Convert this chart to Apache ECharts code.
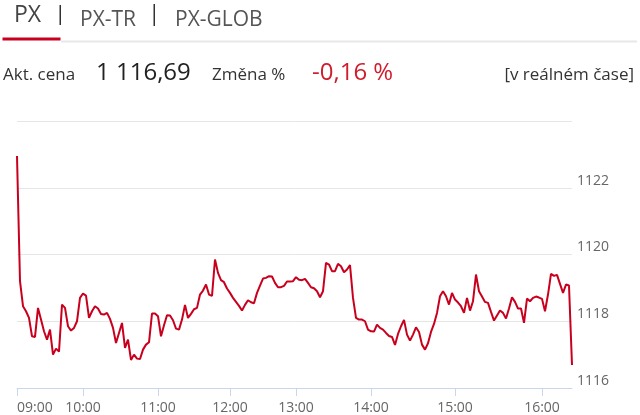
<!DOCTYPE html>
<html>
<head>
<meta charset="utf-8">
<script src="https://cdn.jsdelivr.net/npm/echarts@6/dist/echarts.min.js"></script>
<style>
  html, body { margin: 0; padding: 0; background: #fff; }
  #chart { width: 640px; height: 415px; }
</style>
</head>
<body>
<div id="chart"></div>
<script>
// PX index, intraday values (evenly spaced points, as on the original ordinal axis)
const pxValues = [
  1122.95, 1119.2, 1118.45, 1118.3, 1118.1, 1117.55, 1117.53, 1118.4, 1118.05, 1117.7,
  1117.45, 1117.75, 1117.0, 1117.18, 1117.09, 1118.5, 1118.4, 1117.85, 1117.72, 1117.8,
  1118.0, 1118.7, 1118.83, 1118.77, 1118.1, 1118.3, 1118.45, 1118.38, 1118.22, 1118.2,
  1118.25, 1118.07, 1117.8, 1117.35, 1117.65, 1117.95, 1117.2, 1117.45, 1116.84, 1117.0,
  1116.88, 1116.87, 1117.15, 1117.3, 1117.37, 1118.23, 1118.23, 1118.15, 1117.55, 1117.88,
  1118.18, 1118.17, 1118.03, 1117.78, 1117.75, 1118.05, 1118.49, 1118.1, 1118.22, 1118.36,
  1118.4, 1118.8, 1118.92, 1119.1, 1118.8, 1118.76, 1119.85, 1119.45, 1119.23, 1119.17,
  1118.98, 1118.85, 1118.7, 1118.58, 1118.46, 1118.32, 1118.49, 1118.63, 1118.57, 1118.54,
  1118.85, 1119.07, 1119.28, 1119.3, 1119.35, 1119.34, 1119.15, 1119.02, 1119.02, 1119.06,
  1119.19, 1119.19, 1119.2, 1119.32, 1119.24, 1119.23, 1119.27, 1119.15, 1119.02, 1118.99,
  1118.9, 1118.72, 1118.9, 1119.75, 1119.7, 1119.5, 1119.5, 1119.72, 1119.65, 1119.47,
  1119.55, 1119.68, 1118.7, 1118.1, 1118.05, 1118.05, 1118.0, 1117.75, 1117.7, 1117.69,
  1117.9, 1117.8, 1117.75, 1117.65, 1117.56, 1117.53, 1117.29, 1117.62, 1117.85, 1118.04,
  1117.6, 1117.42, 1117.6, 1117.82, 1117.68, 1117.3, 1117.15, 1117.34, 1117.68, 1117.92,
  1118.25, 1118.75, 1118.9, 1118.75, 1118.5, 1118.85, 1118.65, 1118.56, 1118.45, 1118.25,
  1118.7, 1118.32, 1118.6, 1119.4, 1118.9, 1118.74, 1118.58, 1118.55, 1118.28, 1118.02,
  1118.17, 1118.32, 1118.25, 1118.08, 1118.38, 1118.72, 1118.58, 1118.38, 1118.38, 1117.95,
  1118.68, 1118.6, 1118.7, 1118.74, 1118.71, 1118.67, 1118.3, 1118.8, 1119.42, 1119.36,
  1119.39, 1119.12, 1118.85, 1119.1, 1119.07, 1116.69
];

// hour labels and the point index where each one sits
const timeLabels = ['09:00', '10:00', '11:00', '12:00', '13:00', '14:00', '15:00', '16:00'];
const timeIndex = [0, 22, 47, 71, 93, 118, 146, 175];

const tabNames = ['PX', 'PX-TR', 'PX-GLOB'];
const priceText = '1 116,69';
const changeText = '-0,16 %';

const RED = '#c8001e';
const FONT = '"Open Sans", sans-serif';

const categories = pxValues.map(function (v, i) { return String(i); });

function isTimeTick(index) {
  return timeIndex.indexOf(index) !== -1;
}

const chart = echarts.init(document.getElementById('chart'), null, { renderer: 'canvas' });

const option = {
  animation: false,
  grid: {
    left: 17,
    right: 68,
    top: 121,
    bottom: 26
  },
  graphic: [
    // tabs
    { type: 'text', x: 14, y: 27, style: { text: tabNames[0], font: '23px ' + FONT, fill: '#444', verticalAlign: 'bottom' } },
    { type: 'rect', shape: { x: 59.5, y: 5, width: 1.5, height: 20 }, style: { fill: '#333' } },
    { type: 'text', x: 80, y: 31, style: { text: tabNames[1], font: '21px ' + FONT, fill: '#555', verticalAlign: 'bottom' } },
    { type: 'rect', shape: { x: 153.5, y: 4, width: 1.5, height: 22 }, style: { fill: '#333' } },
    { type: 'text', x: 175, y: 31, style: { text: tabNames[2], font: '21px ' + FONT, fill: '#555', verticalAlign: 'bottom' } },
    { type: 'rect', shape: { x: 61, y: 40.5, width: 576, height: 2 }, style: { fill: '#e8e8e8' } },
    { type: 'rect', shape: { x: 2.5, y: 37.5, width: 58, height: 3 }, style: { fill: RED } },
    // price row
    { type: 'text', x: 3, y: 84, style: { text: 'Akt. cena', font: '17px ' + FONT, fill: '#333', verticalAlign: 'bottom' } },
    { type: 'text', x: 96, y: 85, style: { text: priceText, font: '24px ' + FONT, fill: '#222', verticalAlign: 'bottom' } },
    { type: 'text', x: 212, y: 84, style: { text: 'Změna %', font: '17px ' + FONT, fill: '#333', verticalAlign: 'bottom' } },
    { type: 'text', x: 312, y: 85, style: { text: changeText, font: '24px ' + FONT, fill: '#d01c2c', verticalAlign: 'bottom' } },
    { type: 'text', x: 634, y: 84, style: { text: '[v reálném čase]', font: '17px ' + FONT, fill: '#333', align: 'right', verticalAlign: 'bottom' } }
  ],
  xAxis: {
    type: 'category',
    data: categories,
    boundaryGap: false,
    axisLine: { lineStyle: { color: '#ccd6eb', width: 1 } },
    axisTick: {
      interval: function (index) { return isTimeTick(index); },
      length: 8,
      lineStyle: { color: '#ccd6eb' }
    },
    axisLabel: {
      interval: function (index) { return isTimeTick(index); },
      formatter: function (value) {
        const k = timeIndex.indexOf(Number(value));
        return k === -1 ? '' : timeLabels[k];
      },
      alignMinLabel: 'left',
      margin: 13,
      color: '#666',
      fontFamily: FONT,
      fontSize: 14
    },
    splitLine: { show: false }
  },
  yAxis: {
    type: 'value',
    position: 'right',
    min: 1116,
    max: 1124,
    interval: 2,
    axisLine: { show: false },
    axisTick: { show: false },
    axisLabel: {
      margin: 5,
      showMaxLabel: false,
      verticalAlign: 'bottom',
      formatter: function (v) { return String(v); },
      color: '#666',
      fontFamily: FONT,
      fontSize: 14
    },
    splitLine: { lineStyle: { color: '#e6e6e6', width: 1 } }
  },
  series: [
    {
      type: 'line',
      data: pxValues,
      showSymbol: false,
      symbol: 'none',
      lineStyle: { color: RED, width: 2 },
      z: 3
    }
  ]
};

chart.setOption(option);
</script>
</body>
</html>
